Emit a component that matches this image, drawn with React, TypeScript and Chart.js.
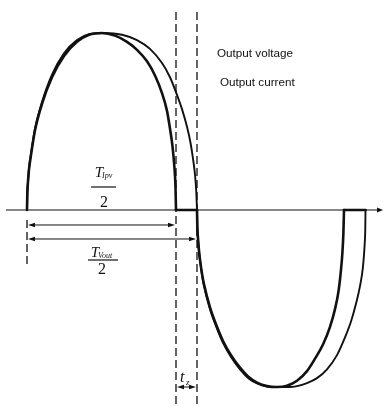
import React, { useEffect, useRef } from "react";
import { Chart, registerables } from "chart.js";

Chart.register(...registerables);

// time in arbitrary units (t = 0 at the start of the half wave), amplitude in % of peak
const CURRENT_POSITIVE: [number, number][] = [
  [0, 0], [0.3, 9], [1, 16], [2, 23], [4, 31], [8, 45], [15, 60], [25, 75], [37, 87], [50, 95],
  [62, 99], [75, 100], [88, 98.5], [100, 95], [110, 90.5], [120, 84], [128, 76], [135, 66],
  [140, 56], [143, 46], [145.5, 36], [147.3, 25], [148.5, 13], [149, 0],
];
const CURRENT_ZERO_1: [number, number][] = [[149, 0], [170, 0]];
const CURRENT_NEGATIVE: [number, number][] = [
  [170, 0], [170.3, -9], [171, -16], [172, -23], [173, -28], [175, -36], [177, -42],
  [183, -55], [190, -66], [196, -74], [204, -82], [213, -89], [222, -94.5], [230, -97.5],
  [240, -99.5], [250, -100], [260, -99.3], [270, -96.5], [280, -91], [288, -84], [296, -76],
  [303, -66], [308, -56], [311.5, -46], [313.8, -35], [315.3, -25], [316.4, -13], [317, 0],
];
const CURRENT_ZERO_2: [number, number][] = [[317, 0], [338.5, 0]];

const VOLTAGE_POSITIVE: [number, number][] = [
  [0, 0], [0.3, 9], [1, 16], [2, 23.5], [4, 32], [8, 46], [15, 61], [25, 76.5], [37, 88.5],
  [50, 96], [62, 99.3], [78, 100], [95, 99], [110, 96], [123, 91], [135, 83], [143, 75],
  [150, 65], [155, 57], [160, 47], [163.5, 38], [166, 29], [168, 20], [169.3, 10], [170, 0],
];
const VOLTAGE_NEGATIVE: [number, number][] = [
  [170, 0], [170.3, -9], [171, -16.5], [172, -23.5], [173, -28.5], [175, -36.5], [177, -43],
  [183, -56], [190, -67], [196, -75], [204, -83], [213, -90], [222, -95.3], [230, -98],
  [240, -99.7], [250, -100], [262, -100], [270, -99.5], [280, -97.8], [290, -95], [300, -90],
  [310, -82], [318, -72], [324, -63], [329, -53], [333, -43], [336, -32], [337.6, -20],
  [338.3, -10], [338.5, 0],
];

// dimension marks (same time units)
const T_IPV_HALF = 149;
const T_VOUT_HALF = 170;
const SERIES_LABELS = ["Output voltage", "Output current"];

const X_RANGE = [-27, 358];
const Y_RANGE = [-111.3, 118.64];

const INK = "#111";

const toPts = (a: [number, number][]) => a.map(([x, y]) => ({ x, y }));

function arrowHead(ctx: CanvasRenderingContext2D, x: number, y: number, dir: number, len = 6, hw = 2.5) {
  ctx.beginPath();
  ctx.moveTo(x, y);
  ctx.lineTo(x - dir * len, y - hw);
  ctx.lineTo(x - dir * len, y + hw);
  ctx.closePath();
  ctx.fill();
}

const annotations = {
  id: "annotations",
  beforeDraw(chart: any) {
    const ctx = chart.ctx;
    ctx.save();
    ctx.fillStyle = "#fff";
    ctx.fillRect(0, 0, chart.width, chart.height);
    ctx.restore();
  },
  beforeDatasetsDraw(chart: any) {
    const ctx: CanvasRenderingContext2D = chart.ctx;
    const xs = chart.scales.x;
    const ys = chart.scales.y;
    const X = (t: number) => xs.getPixelForValue(t);
    const Y0 = ys.getPixelForValue(0);
    ctx.save();
    ctx.strokeStyle = INK;
    ctx.fillStyle = INK;
    // time axis
    ctx.lineWidth = 1.2;
    ctx.beginPath();
    ctx.moveTo(X(-21), Y0);
    ctx.lineTo(X(353), Y0);
    ctx.stroke();
    arrowHead(ctx, X(356), Y0, 1, 6, 2.5);

    // dashed verticals
    ctx.lineWidth = 1.3;
    ctx.setLineDash([8, 4]);
    [T_IPV_HALF, T_VOUT_HALF].forEach((t) => {
      ctx.beginPath();
      ctx.moveTo(X(t), 12);
      ctx.lineTo(X(t), chart.height);
      ctx.stroke();
    });
    ctx.beginPath();
    ctx.moveTo(X(0), Y0 + 10);
    ctx.lineTo(X(0), Y0 + 54);
    ctx.stroke();
    ctx.setLineDash([]);

    // dimension arrows
    ctx.lineWidth = 1;
    const dim = (x1: number, x2: number, y: number) => {
      ctx.beginPath();
      ctx.moveTo(x1 + 4, y);
      ctx.lineTo(x2 - 4, y);
      ctx.stroke();
      arrowHead(ctx, x1, y, -1, 7, 2.3);
      arrowHead(ctx, x2, y, 1, 7, 2.3);
    };
    dim(X(0) + 1, X(T_IPV_HALF) - 1, Y0 + 15);
    dim(X(0) + 1, X(T_VOUT_HALF) - 1, Y0 + 29);
    dim(X(T_IPV_HALF) + 1, X(T_VOUT_HALF) - 1, ys.getPixelForValue(-100));

    // fraction labels
    const serif = "'Liberation Serif', 'DejaVu Serif', serif";
    const frac = (cx: number, sub: string, tBase: number, lineY: number, twoBase: number, lx1: number, lx2: number) => {
      ctx.textBaseline = "alphabetic";
      ctx.textAlign = "left";
      ctx.font = `italic 15px ${serif}`;
      const tw = ctx.measureText("T").width;
      ctx.font = `italic 8px ${serif}`;
      const sw = ctx.measureText(sub).width;
      const left = cx - (tw + sw) / 2;
      ctx.font = `italic 15px ${serif}`;
      ctx.fillText("T", left, tBase);
      ctx.font = `italic 8px ${serif}`;
      ctx.fillText(sub, left + tw - 1, tBase + 1);
      ctx.lineWidth = 1.2;
      ctx.beginPath();
      ctx.moveTo(lx1, lineY);
      ctx.lineTo(lx2, lineY);
      ctx.stroke();
      ctx.textAlign = "center";
      ctx.font = `16px ${serif}`;
      ctx.fillText("2", cx, twoBase);
    };
    frac(X(77), "Ipv", Y0 - 33, Y0 - 23, Y0 - 3, X(64), X(89));
    frac(X(75), "Vout", Y0 + 47, Y0 + 50, Y0 + 64, X(61), X(91));

    // t_z label
    ctx.textAlign = "left";
    ctx.font = `italic 16px ${serif}`;
    ctx.fillText("t", X(T_IPV_HALF) + 4, ys.getPixelForValue(-100) - 5);
    ctx.font = `italic 9px ${serif}`;
    ctx.fillText("z", X(T_IPV_HALF) + 10, ys.getPixelForValue(-100) - 2);

    // series labels
    ctx.font = "11.7px 'Liberation Sans', Arial, sans-serif";
    ctx.fillText(SERIES_LABELS[0], X(190), 57);
    ctx.fillText(SERIES_LABELS[1], X(193), 86);
    ctx.restore();
  },
};

export default function App() {
  const ref = useRef<HTMLCanvasElement | null>(null);
  useEffect(() => {
    if (!ref.current) return;
    const seg = (data: [number, number][], w: number) => ({
      data: toPts(data),
      showLine: true,
      borderColor: INK,
      borderWidth: w,
      pointRadius: 0,
      cubicInterpolationMode: "monotone" as const,
      fill: false,
    });
    const chart = new Chart(ref.current, {
      type: "scatter",
      data: {
        datasets: [
          { label: SERIES_LABELS[0] + " +", ...seg(VOLTAGE_POSITIVE, 1.9) },
          { label: SERIES_LABELS[0] + " -", ...seg(VOLTAGE_NEGATIVE, 1.9) },
          { label: SERIES_LABELS[1] + " +", ...seg(CURRENT_POSITIVE, 2.6) },
          { label: SERIES_LABELS[1] + " 0", ...seg(CURRENT_ZERO_1, 2.6) },
          { label: SERIES_LABELS[1] + " -", ...seg(CURRENT_NEGATIVE, 2.6) },
          { label: SERIES_LABELS[1] + " 0b", ...seg(CURRENT_ZERO_2, 2.6) },
        ],
      },
      options: {
        animation: false,
        responsive: false,
        layout: { padding: 0 },
        plugins: { legend: { display: false }, tooltip: { enabled: false }, title: { display: false } },
        scales: {
          x: { type: "linear", display: false, min: X_RANGE[0], max: X_RANGE[1] },
          y: { type: "linear", display: false, min: Y_RANGE[0], max: Y_RANGE[1] },
        },
        elements: { line: { borderCapStyle: "round", borderJoinStyle: "round" } },
      },
      plugins: [annotations],
    });
    return () => chart.destroy();
  }, []);
  return (
    <div style={{ position: "absolute", left: 0, top: 0, width: 385, height: 407, background: "#fff" }}>
      <canvas ref={ref} width={385} height={407} style={{ display: "block", width: 385, height: 407 }} />
    </div>
  );
}
